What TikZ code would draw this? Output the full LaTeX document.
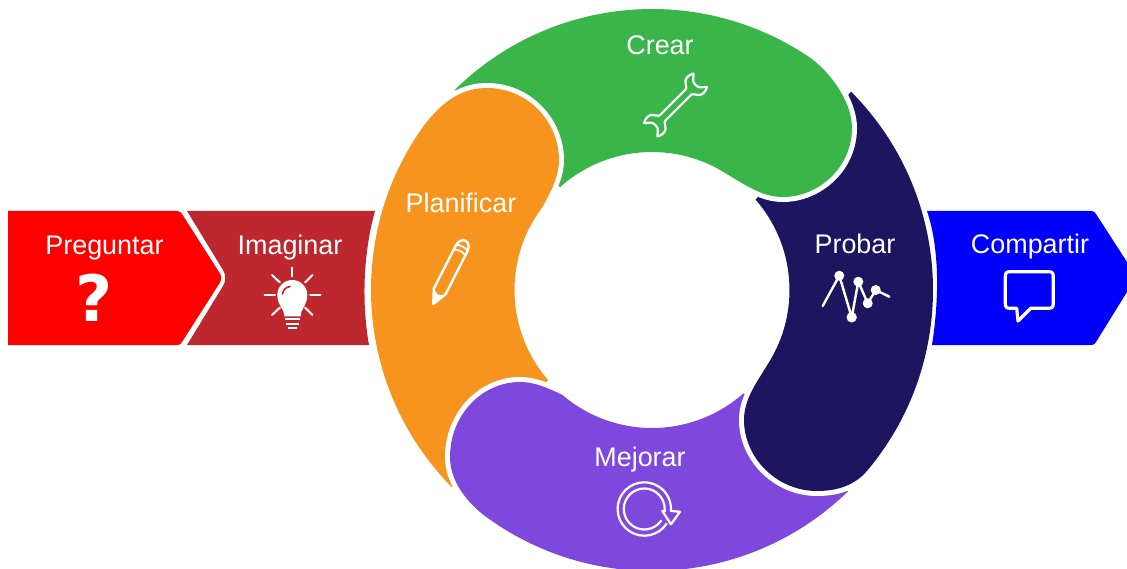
\documentclass[tikz,border=0pt]{standalone}
\usepackage{fontspec}
\setmainfont{Liberation Sans}
\newfontfamily\heavyfont{DejaVu Sans}
\definecolor{cred}{HTML}{FF0000}
\definecolor{cbrick}{HTML}{BE272D}
\definecolor{corange}{HTML}{F7941E}
\definecolor{cgreen}{HTML}{39B54A}
\definecolor{cnavy}{HTML}{1D1560}
\definecolor{cpurple}{HTML}{7F48DC}
\definecolor{cblue}{HTML}{0000FF}
\tikzset{
  lab/.style={text=white,anchor=base,inner sep=0pt,font=\fontsize{26.9}{30}\selectfont},
  icon/.style={draw=white,line width=#1,line cap=round,line join=round},
  icon/.default=2pt,
  gap/.style={draw=white,line width=10pt,line cap=butt}
}
% segment heads and bodies
\def\greenhead{([shift={(56:281pt)}]O) .. controls (828,70) and (852,100) .. (852,128) .. controls (852,168) and (818,197) .. (783,197) .. controls (762,197) and (745,185) .. ([shift={(60.5:138pt)}]O)}
\def\orangehead{([shift={(143:281pt)}]O) .. controls (445,100) and (463,88) .. (487,88) .. controls (528,88) and (559,122) .. (559,160) .. controls (559,175) and (552,190) .. ([shift={(142.7:137.5pt)}]O)}
\def\navyhead{([shift={(-40:281pt)}]O) .. controls (855,485) and (838,491) .. (817,491) .. controls (777,491) and (744,458) .. (744,420) .. controls (744,400) and (755,385) .. ([shift={(-32.5:137.5pt)}]O)}
\def\purplehead{([shift={(233:281pt)}]O) .. controls (465,500) and (450,480) .. (450,457) .. controls (450,415) and (482,382) .. (520,382) .. controls (535,382) and (548,388) .. ([shift={(229.5:138pt)}]O)}
\begin{document}
\begin{tikzpicture}[x=1pt,y=-1pt]
\useasboundingbox (0,0) rectangle (1127,569);
\coordinate (O) at (652,290);
\begin{scope}
\clip (0,0) rectangle (1127,569);
% chevrons
\fill[cred] (8,345) -- (8,211) -- (176,211) .. controls (180,211) and (181,213) .. (182,214) -- (219,272) .. controls (222,276) and (222,280) .. (219,284) -- (182,342) .. controls (181,344) and (180,345) .. (176,345) -- cycle;
\fill[cbrick] (187,211) -- (375,211) .. controls (364,250) and (361,300) .. (369,345) -- (187,345) -- (223,286) .. controls (226,281) and (226,275) .. (223,270) -- cycle;
\fill[cblue] (927,211) .. controls (940,250) and (939,300) .. (932,345) -- (1090,345) .. controls (1094,345) and (1095,344) .. (1096,342) -- (1127,292) -- (1127,262) -- (1096,214) .. controls (1095,212) and (1094,211) .. (1090,211) -- cycle;
% ring
\fill[corange] ([shift={(224.6:281pt)}]O) arc[start angle=224.6,end angle=143,radius=281pt] .. controls (445,100) and (463,88) .. (487,88) .. controls (528,88) and (559,122) .. (559,160) .. controls (559,175) and (552,190) .. ([shift={(142.7:137.5pt)}]O) arc[start angle=142.7,end angle=220.9,radius=137.5pt] -- cycle;
\path[gap] \purplehead;
\fill[cpurple] ([shift={(-45.7:281pt)}]O) arc[start angle=-45.7,end angle=-127,radius=281pt] .. controls (465,500) and (450,480) .. (450,457) .. controls (450,415) and (482,382) .. (520,382) .. controls (535,382) and (548,388) .. ([shift={(229.5:138pt)}]O) arc[start angle=229.5,end angle=311.5,radius=138pt] -- cycle;
\path[gap] \navyhead;
\fill[cnavy] ([shift={(44.9:281pt)}]O) arc[start angle=44.9,end angle=-40,radius=281pt] .. controls (855,485) and (838,491) .. (817,491) .. controls (777,491) and (744,458) .. (744,420) .. controls (744,400) and (755,385) .. ([shift={(-32.5:137.5pt)}]O) arc[start angle=-32.5,end angle=41.1,radius=137.5pt] -- cycle;
\path[gap] \greenhead;
\fill[cgreen] ([shift={(134.6:281pt)}]O) arc[start angle=134.6,end angle=56,radius=281pt] .. controls (828,70) and (852,100) .. (852,128) .. controls (852,168) and (818,197) .. (783,197) .. controls (762,197) and (745,185) .. ([shift={(60.5:138pt)}]O) arc[start angle=60.5,end angle=131.8,radius=138pt] -- cycle;
\begin{scope}
\clip (360,60) rectangle (600,225);
\path[gap] \orangehead;
\fill[corange] ([shift={(224.6:281pt)}]O) arc[start angle=224.6,end angle=143,radius=281pt] .. controls (445,100) and (463,88) .. (487,88) .. controls (528,88) and (559,122) .. (559,160) .. controls (559,175) and (552,190) .. ([shift={(142.7:137.5pt)}]O) arc[start angle=142.7,end angle=220.9,radius=137.5pt] -- cycle;
\end{scope}
\end{scope}
% labels
\node[lab] (preguntar) at (104.5,255) {Preguntar};
\node[lab] (imaginar) at (290,255) {Imaginar};
\node[lab] (planificar) at (461,213) {Planificar};
\node[lab] (crear) at (660,55) {Crear};
\node[lab] (probar) at (855,254) {Probar};
\node[lab] (mejorar) at (640,466) {Mejorar};
\node[lab] (compartir) at (1030,254) {Compartir};
\node[text=white,anchor=base,inner sep=0pt,font=\heavyfont\bfseries\fontsize{64}{70}\selectfont] (qmark) at (94.5,321.5) {?};
% bulb
\fill[white] (284.5,316.5) .. controls (284.5,309) and (277.3,305) .. (277.3,295) arc[start angle=180,end angle=0,radius=15pt] .. controls (307.3,305) and (300.5,309) .. (300.5,316.5) -- cycle;
\draw[icon=1.6pt,cbrick] (282.5,294) .. controls (283,290) and (286,287) .. (290,286.5);
\foreach \a/\b/\c/\d in {292.3/267.5/292.3/276.5, 264.5/295/275/295, 310/295/320.5/295, 272/275/280/282.5, 312.5/275/305/282.5, 272/315/280/307.5, 312.5/315/305/307.5}
  \draw[icon=2pt] (\a,\b) -- (\c,\d);
\draw[icon=2pt,line cap=butt] (285,319.5) -- (299.5,319.5) (285.5,323.5) -- (299,323.5) (288,327.5) -- (296.5,327.5);
% wrench
\begin{scope}[shift={(675.5,105)},rotate=45]
\draw[icon=2.2pt] (-18,-3.8) -- (18,-3.8) .. controls (21,-3.8) and (21,-8) .. (24,-10) .. controls (27,-12) and (31,-11.8) .. (35,-9.5) -- (29.5,-4.5) .. controls (28,-2) and (28,2) .. (29.5,4.5) -- (35,9.5) .. controls (31,11.8) and (27,12) .. (24,10) .. controls (21,8) and (21,3.8) .. (18,3.8) -- (-18,3.8) .. controls (-21,3.8) and (-21,8) .. (-24,10) .. controls (-27,12) and (-31,11.8) .. (-35,9.5) -- (-29.5,4.5) .. controls (-28,2) and (-28,-2) .. (-29.5,-4.5) -- (-35,-9.5) .. controls (-31,-11.8) and (-27,-12) .. (-24,-10) .. controls (-21,-8) and (-21,-3.8) .. (-18,-3.8) -- cycle;
\end{scope}
% pencil
\begin{scope}[shift={(433.3,304)},rotate=63]
\draw[icon=2.4pt] (0,0) -- (14,-6.5) -- (62,-6.5) .. controls (68,-6.5) and (71,-3) .. (71,0) .. controls (71,3) and (68,6.5) .. (62,6.5) -- (14,6.5) -- cycle;
\draw[icon=1.8pt] (58,-6.5) .. controls (60,-2) and (60,2) .. (58,6.5) (63,-6.5) .. controls (65,-2) and (65,2) .. (63,6.5);
\fill[white] (0,0) -- (14,-6.5) .. controls (11,-2.5) and (11,-1) .. (10.5,0) .. controls (11,1) and (11,2.5) .. (14,6.5) -- cycle;
\end{scope}
% chart
\draw[icon=2.4pt] (822.7,306) -- (839.3,275.7) -- (851.7,317.3) -- (858.3,281.7) -- (867.7,303.3) -- (875.7,290) -- (889.3,296.7);
\foreach \a/\b/\r in {839.3/275.7/5, 851.7/317.3/5.2, 858.3/281.7/5, 867.7/303.3/5, 875.7/290/5}
  \fill[white] (\a,\b) circle[radius=\r pt];
% cycle arrow
\coordinate (C) at (644.3,509);
\draw[icon=2.2pt] ([shift={(-33:26.7pt)}]C) arc[start angle=-33,delta angle=-331,radius=26.7pt];
\draw[icon=2.2pt] ([shift={(-35:20.5pt)}]C) arc[start angle=-35,delta angle=-331,radius=20.5pt];
\draw[icon=2.2pt] (665,511) -- (662.3,511) -- (671,524.3) -- (680,511.7) -- (671,511);
% speech bubble
\draw[icon=3.2pt] (1010,271.7) -- (1048.5,271.7) .. controls (1052,271.7) and (1053.3,273) .. (1053.3,276.5) -- (1053.3,303.5) .. controls (1053.3,307) and (1052,308.3) .. (1048.5,308.3) -- (1030.7,308.3) -- (1018,321) -- (1016.7,308.3) -- (1010,308.3) .. controls (1006.5,308.3) and (1005.3,307) .. (1005.3,303.5) -- (1005.3,276.5) .. controls (1005.3,273) and (1006.5,271.7) .. (1010,271.7) -- cycle;
\end{tikzpicture}
\end{document}
